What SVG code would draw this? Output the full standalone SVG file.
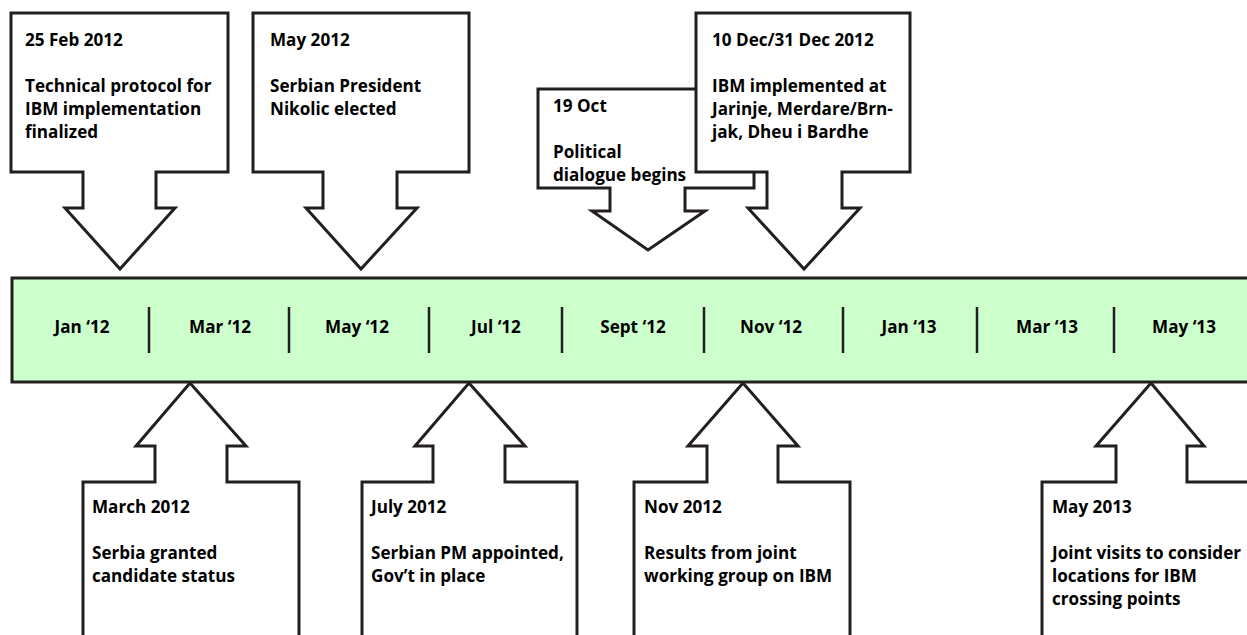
<svg xmlns="http://www.w3.org/2000/svg" width="1247" height="635" viewBox="0 0 1247 635">
<style>
.shape{fill:#ffffff;stroke:#231f20;stroke-width:3;stroke-linejoin:miter}
.bar{fill:#ccffcc;stroke:#231f20;stroke-width:3}
.tick{stroke:#231f20;stroke-width:2.5}
text{font-family:"Open Sans","Liberation Sans",sans-serif;font-weight:700;font-size:17.1px;fill:#000000}
.lbl{text-anchor:middle}
</style>
<rect width="1247" height="635" fill="#ffffff"/>
<g id="timeline">
<rect class="bar" x="12" y="278" width="1250" height="104"/>
<g id="ticks">
<line class="tick" x1="149" y1="307" x2="149" y2="353"/>
<line class="tick" x1="289" y1="307" x2="289" y2="353"/>
<line class="tick" x1="429" y1="307" x2="429" y2="353"/>
<line class="tick" x1="562" y1="307" x2="562" y2="353"/>
<line class="tick" x1="704" y1="307" x2="704" y2="353"/>
<line class="tick" x1="843" y1="307" x2="843" y2="353"/>
<line class="tick" x1="977" y1="307" x2="977" y2="353"/>
<line class="tick" x1="1114" y1="307" x2="1114" y2="353"/>
</g>
<text class="lbl" x="82" y="333">Jan ‘12</text>
<text class="lbl" x="220" y="333">Mar ‘12</text>
<text class="lbl" x="357" y="333">May ‘12</text>
<text class="lbl" x="496" y="333">Jul ‘12</text>
<text class="lbl" x="633" y="333">Sept ‘12</text>
<text class="lbl" x="771" y="333">Nov ‘12</text>
<text class="lbl" x="909" y="333">Jan ‘13</text>
<text class="lbl" x="1047" y="333">Mar ‘13</text>
<text class="lbl" x="1184" y="333">May ‘13</text>
</g>
<g id="feb2012">
<path class="shape" d="M11,13 H228 V172 H156 V208 H175 L120,269 L65,208 H83 V172 H11 Z"/>
<text x="25" y="46">25 Feb 2012</text>
<text x="25" y="92">Technical protocol for</text>
<text x="25" y="115">IBM implementation</text>
<text x="25" y="138">finalized</text>
</g>
<g id="may2012">
<path class="shape" d="M253,13 H469 V172 H397 V208 H417 L361,269 L306,208 H323 V172 H253 Z"/>
<text x="270" y="46">May 2012</text>
<text x="270" y="92">Serbian President</text>
<text x="270" y="115">Nikolic elected</text>
</g>
<g id="oct2012">
<path class="shape" d="M538,89 H754 V188 H685 V211 H705 L648,250 L592,211 H610 V188 H538 Z"/>
<text x="553" y="112">19 Oct</text>
<text x="553" y="158">Political</text>
<text x="553" y="181">dialogue begins</text>
</g>
<g id="dec2012">
<path class="shape" d="M696,13 H910 V172 H842 V208 H860 L804,269 L748,208 H767 V172 H696 Z"/>
<text x="712" y="46">10 Dec/31 Dec 2012</text>
<text x="712" y="92">IBM implemented at</text>
<text x="712" y="115">Jarinje, Merdare/Brn-</text>
<text x="712" y="138">jak, Dheu i Bardhe</text>
</g>
<g id="mar2012">
<path class="shape" d="M83,645 V482 H155 V446 H136 L190,383 L246,446 H227 V482 H299 V645"/>
<text x="92" y="513">March 2012</text>
<text x="92" y="559">Serbia granted</text>
<text x="92" y="582">candidate status</text>
</g>
<g id="jul2012">
<path class="shape" d="M362,645 V482 H433 V446 H415 L469,383 L525,446 H505 V482 H577 V645"/>
<text x="371" y="513">July 2012</text>
<text x="371" y="559">Serbian PM appointed,</text>
<text x="371" y="582">Gov’t in place</text>
</g>
<g id="nov2012">
<path class="shape" d="M634,645 V482 H707 V446 H688 L743,383 L798,446 H778 V482 H850 V645"/>
<text x="644" y="513">Nov 2012</text>
<text x="644" y="559">Results from joint</text>
<text x="644" y="582">working group on IBM</text>
</g>
<g id="may2013">
<path class="shape" d="M1042,645 V482 H1116 V446 H1096 L1151,383 L1204,446 H1187 V482 H1260 V645"/>
<text x="1052" y="513">May 2013</text>
<text x="1052" y="559">Joint visits to consider</text>
<text x="1052" y="582">locations for IBM</text>
<text x="1052" y="605">crossing points</text>
</g>
<g id="connectors"></g>
</svg>
